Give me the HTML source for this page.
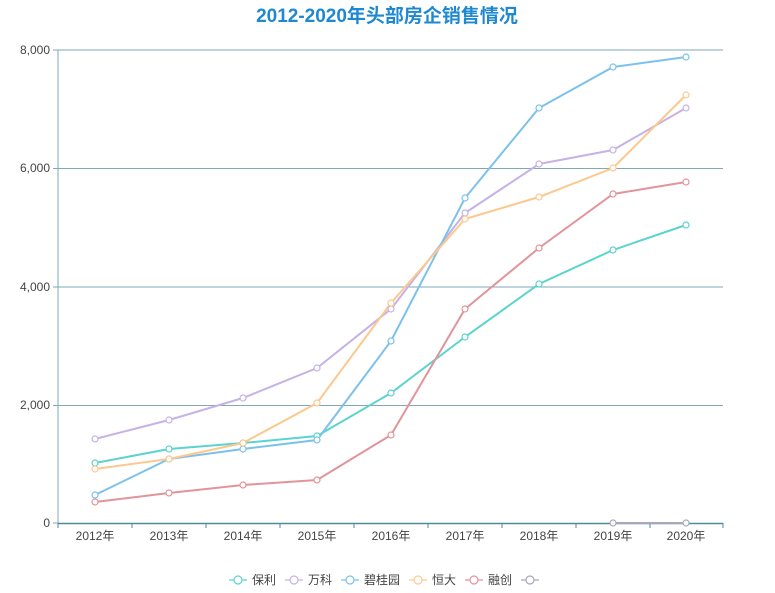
<!DOCTYPE html>
<html><head><meta charset="utf-8"><style>
body{margin:0;background:#fff;width:775px;height:593px;overflow:hidden}
svg{display:block;font-family:"Liberation Sans","Noto Sans CJK SC",sans-serif}
</style></head><body>
<svg width="775" height="593" viewBox="0 0 775 593">
<text x="387" y="22" text-anchor="middle" font-size="19" font-weight="bold" fill="#1e88d0">2012-2020年头部房企销售情况</text>
<g stroke="#7fa9b5" stroke-width="1">
<line x1="58" y1="50" x2="723" y2="50"/>
<line x1="58" y1="168.5" x2="723" y2="168.5"/>
<line x1="58" y1="287" x2="723" y2="287"/>
<line x1="58" y1="405.5" x2="723" y2="405.5"/>
<line x1="58" y1="50" x2="58" y2="523"/>
<line x1="53" y1="50" x2="58" y2="50"/><line x1="53" y1="168.5" x2="58" y2="168.5"/><line x1="53" y1="287" x2="58" y2="287"/><line x1="53" y1="405.5" x2="58" y2="405.5"/><line x1="53" y1="523" x2="58" y2="523"/>
</g>
<line x1="58" y1="523.5" x2="723" y2="523.5" stroke="#4f8a9c" stroke-width="1.5"/>
<g stroke="#4f8a9c"><line x1="58" y1="523" x2="58" y2="528"/><line x1="132" y1="523" x2="132" y2="528"/><line x1="206" y1="523" x2="206" y2="528"/><line x1="280" y1="523" x2="280" y2="528"/><line x1="354" y1="523" x2="354" y2="528"/><line x1="428" y1="523" x2="428" y2="528"/><line x1="502" y1="523" x2="502" y2="528"/><line x1="576" y1="523" x2="576" y2="528"/><line x1="650" y1="523" x2="650" y2="528"/><line x1="723" y1="523" x2="723" y2="528"/></g>
<g font-size="12" fill="#444" text-anchor="end">
<text x="50" y="54">8,000</text><text x="50" y="172">6,000</text><text x="50" y="291">4,000</text><text x="50" y="409">2,000</text><text x="50" y="527">0</text>
</g>
<g font-size="12" fill="#444" text-anchor="middle">
<text x="95" y="540">2012年</text><text x="169" y="540">2013年</text><text x="243" y="540">2014年</text><text x="317" y="540">2015年</text><text x="391" y="540">2016年</text><text x="465" y="540">2017年</text><text x="539" y="540">2018年</text><text x="613" y="540">2019年</text><text x="686" y="540">2020年</text>
</g>
<g fill="none" stroke-width="2">
<polyline stroke="#5bd3cf" points="95,463 169,449 243,443 317,436 391,393 465,337 539,284 613,250 686,225"/>
<polyline stroke="#c6b2e6" points="95,439 169,420 243,398 317,368 391,309 465,213 539,164 613,150 686,108"/>
<polyline stroke="#7cc1ec" points="95,495 169,459 243,449 317,440 391,341 465,198 539,108 613,67 686,57"/>
<polyline stroke="#fcc88e" points="95,469 169,459 243,443 317,403 391,303 465,219 539,197 613,168 686,95"/>
<polyline stroke="#e1949a" points="95,502 169,493 243,485 317,480 391,435 465,309 539,248 613,194 686,182"/>
<polyline stroke="#a8a8b8" points="613,523 686,523"/>
</g>
<g fill="#fff" stroke-width="1.2">
<g stroke="#5bd3cf"><circle cx="95" cy="463" r="3"/><circle cx="169" cy="449" r="3"/><circle cx="243" cy="443" r="3"/><circle cx="317" cy="436" r="3"/><circle cx="391" cy="393" r="3"/><circle cx="465" cy="337" r="3"/><circle cx="539" cy="284" r="3"/><circle cx="613" cy="250" r="3"/><circle cx="686" cy="225" r="3"/></g>
<g stroke="#c6b2e6"><circle cx="95" cy="439" r="3"/><circle cx="169" cy="420" r="3"/><circle cx="243" cy="398" r="3"/><circle cx="317" cy="368" r="3"/><circle cx="391" cy="309" r="3"/><circle cx="465" cy="213" r="3"/><circle cx="539" cy="164" r="3"/><circle cx="613" cy="150" r="3"/><circle cx="686" cy="108" r="3"/></g>
<g stroke="#7cc1ec"><circle cx="95" cy="495" r="3"/><circle cx="169" cy="459" r="3"/><circle cx="243" cy="449" r="3"/><circle cx="317" cy="440" r="3"/><circle cx="391" cy="341" r="3"/><circle cx="465" cy="198" r="3"/><circle cx="539" cy="108" r="3"/><circle cx="613" cy="67" r="3"/><circle cx="686" cy="57" r="3"/></g>
<g stroke="#fcc88e"><circle cx="95" cy="469" r="3"/><circle cx="169" cy="459" r="3"/><circle cx="243" cy="443" r="3"/><circle cx="317" cy="403" r="3"/><circle cx="391" cy="303" r="3"/><circle cx="465" cy="219" r="3"/><circle cx="539" cy="197" r="3"/><circle cx="613" cy="168" r="3"/><circle cx="686" cy="95" r="3"/></g>
<g stroke="#e1949a"><circle cx="95" cy="502" r="3"/><circle cx="169" cy="493" r="3"/><circle cx="243" cy="485" r="3"/><circle cx="317" cy="480" r="3"/><circle cx="391" cy="435" r="3"/><circle cx="465" cy="309" r="3"/><circle cx="539" cy="248" r="3"/><circle cx="613" cy="194" r="3"/><circle cx="686" cy="182" r="3"/></g>
<g stroke="#a8a8b8"><circle cx="613" cy="523" r="3"/><circle cx="686" cy="523" r="3"/></g>
</g>
<g font-size="12" fill="#444" stroke-width="1.2">
<line x1="229" y1="580" x2="247" y2="580" stroke="#5bd3cf"/><circle cx="238" cy="580" r="4" fill="#fff" stroke="#5bd3cf"/><text x="252" y="584" stroke="none">保利</text>
<line x1="285" y1="580" x2="303" y2="580" stroke="#c6b2e6"/><circle cx="294" cy="580" r="4" fill="#fff" stroke="#c6b2e6"/><text x="308" y="584" stroke="none">万科</text>
<line x1="341" y1="580" x2="359" y2="580" stroke="#7cc1ec"/><circle cx="350" cy="580" r="4" fill="#fff" stroke="#7cc1ec"/><text x="364" y="584" stroke="none">碧桂园</text>
<line x1="409" y1="580" x2="427" y2="580" stroke="#fcc88e"/><circle cx="418" cy="580" r="4" fill="#fff" stroke="#fcc88e"/><text x="432" y="584" stroke="none">恒大</text>
<line x1="465" y1="580" x2="483" y2="580" stroke="#e1949a"/><circle cx="474" cy="580" r="4" fill="#fff" stroke="#e1949a"/><text x="488" y="584" stroke="none">融创</text>
<line x1="521" y1="580" x2="539" y2="580" stroke="#a8a8b8"/><circle cx="530" cy="580" r="4" fill="#fff" stroke="#a8a8b8"/>
</g>
</svg>
</body></html>
